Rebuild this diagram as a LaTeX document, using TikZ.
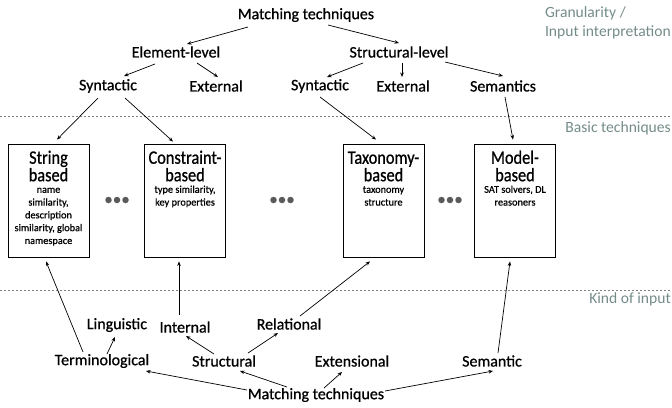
\documentclass[tikz,border=0pt]{standalone}
\usepackage{fontspec}
\setmainfont{Carlito}[RawFeature={embolden=0.8}]
\newfontfamily\sidefont{Carlito}
\usetikzlibrary{arrows.meta}
\definecolor{sidec}{HTML}{748C89}
\definecolor{dotc}{HTML}{5A5A5A}
\newcommand{\tsq}[1]{\scalebox{0.86}[1]{#1}}
\begin{document}
\begin{tikzpicture}[x=1pt,y=-1pt,
  lbl/.style={font=\fontsize{16}{18}\selectfont, inner sep=0pt},
  arr/.style={-{Stealth[length=4.5pt,width=3.6pt]}, line width=0.7pt},
  tbox/.style={draw, line width=0.9pt, minimum width=81pt, minimum height=113pt, inner sep=0pt},
  btitle/.style={font=\fontsize{19}{17.5}\selectfont, align=center, anchor=north, inner sep=0pt},
  bsub/.style={font=\fontsize{10.3}{12.8}\selectfont, align=center, anchor=north, inner sep=0pt},
  sidelbl/.style={text=sidec, font=\sidefont\fontsize{15.6}{19}\selectfont, anchor=east, inner sep=0pt, align=left},
  sepline/.style={draw=gray, line width=0.9pt, dash pattern=on 2pt off 2pt},
  dotmark/.style={circle, fill=dotc, inner sep=0pt, minimum size=6.5pt}]
\useasboundingbox (0,0) rectangle (672,407);

% separators
\coordinate (s1a) at (0,116); \coordinate (s1b) at (672,116);
\coordinate (s2a) at (0,290); \coordinate (s2b) at (672,290);
\draw[sepline] (s1a) -- (s1b);
\draw[sepline] (s2a) -- (s2b);

% side labels
\node[sidelbl] (gran) at (671,23) {Granularity /\\Input interpretation};
\node[sidelbl] (basic) at (671,128) {Basic techniques};
\node[sidelbl] (kind) at (671,299) {Kind of input};

% top tree
\node[lbl] (top) at (306,15) {Matching techniques};
\node[lbl] (el) at (176,52) {Element-level};
\node[lbl] (sl) at (399,52) {Structural-level};
\node[lbl] (synl) at (108,86) {Syntactic};
\node[lbl] (extl) at (216,86) {External};
\node[lbl] (synr) at (320,86) {Syntactic};
\node[lbl] (extr) at (403,86) {External};
\node[lbl] (sem) at (503,86) {Semantics};

% boxes
\node[tbox] (sb) at (48.5,200.5) {};
\node[tbox] (cb) at (185,200.5) {};
\node[tbox] (tb) at (383.5,200.5) {};
\node[tbox] (mb) at (515,200.5) {};

\node[btitle] (sbt) at ([yshift=-6pt]sb.north) {\rule{0pt}{14pt}\tsq{String}\\\tsq{based}};
\node[bsub] (sbs) at ([yshift=-41pt]sb.north) {\rule{0pt}{8pt}name\\similarity,\\description\\similarity, global\\namespace};
\node[btitle] (cbt) at ([yshift=-6pt]cb.north) {\rule{0pt}{14pt}\tsq{Constraint-}\\\tsq{based}};
\node[bsub] (cbs) at ([yshift=-41pt]cb.north) {\rule{0pt}{8pt}type similarity,\\key properties};
\node[btitle] (tbt) at ([yshift=-6pt]tb.north) {\rule{0pt}{14pt}\tsq{Taxonomy-}\\\tsq{based}};
\node[bsub] (tbs) at ([yshift=-41pt]tb.north) {\rule{0pt}{8pt}taxonomy\\structure};
\node[btitle] (mbt) at ([yshift=-6pt]mb.north) {\rule{0pt}{14pt}\tsq{Model-}\\\tsq{based}};
\node[bsub] (mbs) at ([yshift=-41pt]mb.north) {\rule{0pt}{8pt}SAT solvers, DL\\reasoners};

% ellipses
\foreach \cx/\nm in {117/da, 282/db, 450/dc}{
  \node[dotmark] (\nm1) at (\cx-8.5,200) {};
  \node[dotmark] (\nm2) at (\cx,200) {};
  \node[dotmark] (\nm3) at (\cx+8.5,200) {};
}

% bottom tree
\node[lbl] (lin) at (117,325) {Linguistic};
\node[lbl] (int) at (185,327) {Internal};
\node[lbl] (rel) at (289,324) {Relational};
\node[lbl] (term) at (102,361) {Terminological};
\node[lbl] (str) at (224,361) {Structural};
\node[lbl] (ext) at (352,361) {Extensional};
\node[lbl] (semb) at (492,361) {Semantic};
\node[lbl] (bot) at (316,395) {Matching techniques};

% top arrows
\draw[arr] ([shift={(-58,12)}]top.center) -- ([shift={(11,-8)}]el.center);
\draw[arr] ([shift={(22,10)}]top.center) -- ([shift={(0,-9)}]sl.center);
\draw[arr] ([shift={(-21,12)}]el.center) -- ([shift={(16,-10)}]synl.center);
\draw[arr] ([shift={(21,11)}]el.center) -- ([shift={(2,-9)}]extl.center);
\draw[arr] ([shift={(-36,11)}]sl.center) -- ([shift={(7,-9)}]synr.center);
\draw[arr] ([shift={(3,11)}]sl.center) -- ([shift={(-1,-9)}]extr.center);
\draw[arr] ([shift={(46,10)}]sl.center) -- ([shift={(0,-10)}]sem.center);
\draw[arr] ([shift={(-10,12)}]synl.center) -- ([shift={(8.5,-4)}]sb.north);
\draw[arr] ([shift={(17,12)}]synl.center) -- ([shift={(-12,-2)}]cb.north);
\draw[arr] ([shift={(0,11)}]synr.center) -- ([shift={(-7.5,-4)}]tb.north);
\draw[arr] ([shift={(2,11)}]sem.center) -- ([shift={(-2,-4)}]mb.north);

% bottom arrows
\draw[arr] ([shift={(-19,-9)}]term.center) -- ([shift={(-2.5,4)}]sb.south);
\draw[arr] ([shift={(5,-7)}]term.center) -- ([shift={(-2,12)}]lin.center);
\draw[arr] ([shift={(-6,-12)}]int.center) -- ([shift={(-6,4)}]cb.south);
\draw[arr] ([shift={(-10,-7)}]str.center) -- ([shift={(1,9)}]int.center);
\draw[arr] ([shift={(24,-8)}]str.center) -- ([shift={(-11,9)}]rel.center);
\draw[arr] ([shift={(11,-8)}]rel.center) -- ([shift={(-13.5,4)}]tb.south);
\draw[arr] ([shift={(6,-8)}]semb.center) -- ([shift={(-5,4)}]mb.south);
\draw[arr] ([shift={(-69,-5)}]bot.center) -- ([shift={(44,10)}]term.center);
\draw[arr] ([shift={(-29,-8)}]bot.center) -- ([shift={(16,10)}]str.center);
\draw[arr] ([shift={(8,-7)}]bot.center) -- ([shift={(-10,11)}]ext.center);
\draw[arr] ([shift={(69,-4)}]bot.center) -- ([shift={(1,10)}]semb.center);
\end{tikzpicture}
\end{document}
